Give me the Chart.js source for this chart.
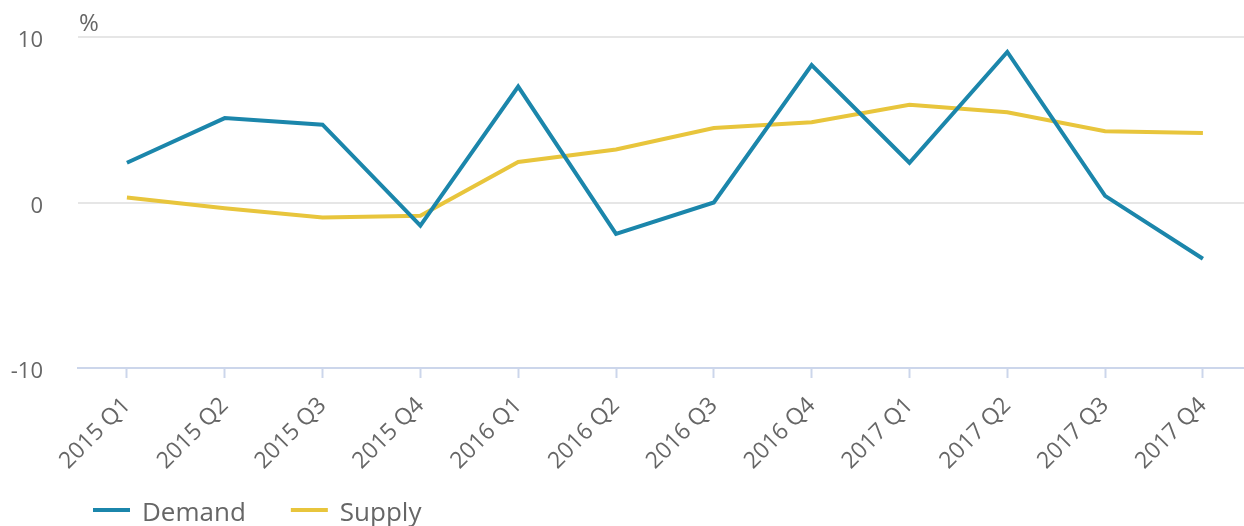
<!DOCTYPE html>
<html>
<head>
<meta charset="utf-8">
<script src="https://cdn.jsdelivr.net/npm/chart.js@4"></script>
<style>
  html, body { margin: 0; padding: 0; background: #ffffff; }
  #wrap { width: 1244px; height: 526px; position: relative; }
</style>
</head>
<body>
<div id="wrap"><canvas id="c" width="1244" height="526"></canvas></div>
<script>
const categories = ["2015 Q1","2015 Q2","2015 Q3","2015 Q4","2016 Q1","2016 Q2","2016 Q3","2016 Q4","2017 Q1","2017 Q2","2017 Q3","2017 Q4"];
const demand = [2.4, 5.1, 4.7, -1.4, 7.0, -1.9, 0.0, 8.3, 2.4, 9.1, 0.4, -3.4];
const supply = [0.3, -0.35, -0.9, -0.8, 2.45, 3.2, 4.5, 4.85, 5.9, 5.45, 4.3, 4.2];
const seriesNames = ["Demand", "Supply"];
const yTicks = [-10, 0, 10];
const unitLabel = "%";

const FONT = "'Open Sans', 'Noto Sans', sans-serif";
const TXT = "#666666";
const colors = ["#1b86ab", "#e8c53c"];

const toPoints = (arr) => arr.map((v, i) => ({ x: i, y: v }));

const customLegend = {
  id: 'customLegend',
  afterDraw(chart) {
    const ctx = chart.ctx;
    ctx.save();
    ctx.font = "24px " + FONT;
    ctx.fillStyle = TXT;
    ctx.textBaseline = 'alphabetic';
    ctx.textAlign = 'left';
    ctx.fillText(unitLabel, 79, 31);
    ctx.font = "26px " + FONT;
    let x = 93;
    const y = 510;
    chart.data.datasets.forEach((ds) => {
      ctx.fillStyle = ds.borderColor;
      ctx.fillRect(x, y - 2, 37, 4);
      ctx.fillStyle = TXT;
      ctx.fillText(ds.label, x + 49, 521);
      x += 49 + ctx.measureText(ds.label).width + 45;
    });
    ctx.restore();
  }
};

new Chart(document.getElementById('c'), {
  type: 'line',
  data: {
    datasets: [
      { label: seriesNames[0], data: toPoints(demand), borderColor: colors[0], backgroundColor: colors[0], borderWidth: 4, pointRadius: 0, tension: 0, fill: false },
      { label: seriesNames[1], data: toPoints(supply), borderColor: colors[1], backgroundColor: colors[1], borderWidth: 4, pointRadius: 0, tension: 0, fill: false }
    ]
  },
  options: {
    responsive: false,
    animation: false,
    layout: { padding: { left: 0, right: 0, top: 37, bottom: 0 } },
    plugins: { legend: { display: false }, tooltip: { enabled: false } },
    scales: {
      x: {
        type: 'linear',
        min: -0.5,
        max: 11.42,
        afterBuildTicks(scale) { scale.ticks = categories.map((c, i) => ({ value: i })); },
        grid: { drawOnChartArea: false, drawTicks: true, tickLength: 10, tickColor: '#ccd6eb', tickWidth: 2 },
        border: { display: true, color: '#ccd6eb', width: 2 },
        ticks: {
          color: TXT, font: { family: FONT, size: 23 }, minRotation: 45, maxRotation: 45, padding: 14, autoSkip: false,
          callback: (v) => categories[v]
        },
        afterFit(scale) { scale.height = 158; }
      },
      y: {
        min: -10, max: 10,
        afterBuildTicks(scale) { scale.ticks = yTicks.map(v => ({ value: v })); },
        grid: {
          drawTicks: true,
          tickLength: 35,
          tickColor: 'rgba(0,0,0,0)',
          lineWidth: 2,
          color: (c) => (c.tick && c.tick.value === -10) ? 'rgba(0,0,0,0)' : '#e6e6e6'
        },
        border: { display: false },
        ticks: { color: TXT, font: { family: FONT, size: 22 }, padding: 0, labelOffset: 4 },
        afterFit(scale) { scale.width = 78; }
      }
    }
  },
  plugins: [customLegend]
});
</script>
</body>
</html>
